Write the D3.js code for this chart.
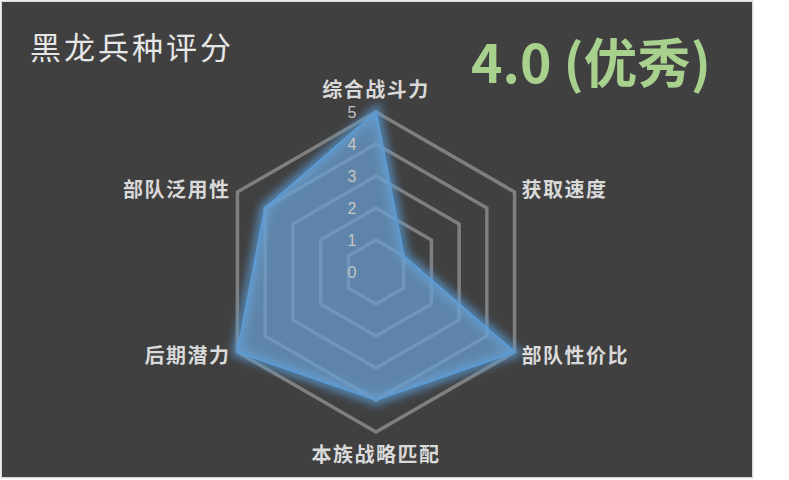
<!DOCTYPE html>
<html lang="zh">
<head>
<meta charset="utf-8">
<title>黑龙兵种评分</title>
<script src="https://cdn.jsdelivr.net/npm/d3@7"></script>
<style>
  body { margin: 0; background: #ffffff; }
  svg text { font-family: "Noto Sans CJK SC", "Noto Sans", sans-serif; }
  svg text.tick { font-family: "Liberation Sans", "DejaVu Sans", sans-serif; }
</style>
</head>
<body>
<div id="chart"></div>
<script>
// data
var axes = ["综合战斗力", "获取速度", "部队性价比", "本族战略匹配", "后期潜力", "部队泛用性"];
var scores = [5, 1, 5, 4, 5, 4];
var ticks = [0, 1, 2, 3, 4, 5];
var title = "黑龙兵种评分";
var verdict = "4.0 (优秀)";

var W = 789, H = 480;
var cx = 376, cy = 272, R = 160;

var svg = d3.select("#chart").append("svg")
    .attr("width", W).attr("height", H);

// blue glow round the series line
var defs = svg.append("defs");
var glow = defs.append("filter").attr("id", "glow")
    .attr("x", "-20%").attr("y", "-20%").attr("width", "140%").attr("height", "140%");
glow.append("feGaussianBlur").attr("in", "SourceGraphic").attr("stdDeviation", 4);

// panel
svg.append("rect").attr("x", 0.5).attr("y", 0.5).attr("width", 753).attr("height", 478)
    .attr("fill", "#d9d9d9");
svg.append("rect").attr("x", 2).attr("y", 2).attr("width", 750).attr("height", 475)
    .attr("fill", "#404040");

var r = d3.scaleLinear().domain([0, 5]).range([0, R]);
var angle = d3.scalePoint().domain(d3.range(axes.length + 1)).range([0, 2 * Math.PI]);

function pt(i, v) {
  var a = angle(i);
  return [cx + r(v) * Math.sin(a), cy - r(v) * Math.cos(a)];
}

var g = svg.append("g");

// grid rings
var rings = ticks.filter(function(t) { return t > 0; });
g.selectAll("path.ring").data(rings).enter().append("path")
    .attr("class", "ring")
    .attr("d", function(t) {
      return d3.line()(axes.map(function(_, i) { return pt(i, t); })) + "Z";
    })
    .attr("fill", "none")
    .attr("stroke", "#7f7f7f")
    .attr("stroke-width", 3.5)
    .attr("stroke-linejoin", "miter");

// series
var line = d3.lineRadial()
    .angle(function(d, i) { return angle(i); })
    .radius(function(d) { return r(d); })
    .curve(d3.curveLinearClosed);

var series = g.append("g").attr("transform", "translate(" + cx + "," + cy + ")");
series.append("path").datum(scores)
    .attr("d", line)
    .attr("fill", "none")
    .attr("stroke", "#5b9bd5")
    .attr("stroke-width", 10)
    .attr("stroke-opacity", 0.8)
    .attr("filter", "url(#glow)");
series.append("path").datum(scores)
    .attr("d", line)
    .attr("fill", "#6a9fd0")
    .attr("fill-opacity", 0.73)
    .attr("stroke", "#5b9bd5")
    .attr("stroke-width", 2)
    .attr("stroke-linejoin", "miter");

// tick labels
g.selectAll("text.tick").data(ticks).enter().append("text")
    .attr("class", "tick")
    .attr("x", cx - 24)
    .attr("y", function(t) { return cy - r(t) + 6; })
    .attr("text-anchor", "middle")
    .attr("font-size", 16)
    .attr("fill", "#c4c4c4")
    .text(function(t) { return t; });

// axis labels
g.selectAll("text.axis").data(axes).enter().append("text")
    .attr("class", "axis")
    .each(function(d, i) {
      var p = pt(i, 5), a = angle(i), s = Math.sin(a), c = Math.cos(a);
      var t = d3.select(this);
      if (Math.abs(s) < 0.01) {
        t.attr("x", p[0]).attr("text-anchor", "middle")
         .attr("y", c > 0 ? p[1] - 15 : p[1] + 30);
      } else {
        t.attr("x", p[0] + (s > 0 ? 7 : -7))
         .attr("text-anchor", s > 0 ? "start" : "end")
         .attr("y", c > 0 ? p[1] + 5 : p[1] + 11);
      }
    })
    .attr("font-size", 20)
    .attr("letter-spacing", 1.5)
    .attr("font-weight", "bold")
    .attr("fill", "#d9d9d9")
    .text(function(d) { return d; });

// titles
svg.append("text")
    .attr("x", 30).attr("y", 59)
    .attr("font-size", 31)
    .attr("letter-spacing", 3)
    .attr("fill", "#e6e6e6")
    .text(title);

svg.append("text")
    .attr("x", 471).attr("y", 83)
    .attr("font-size", 53)
    .attr("font-weight", "bold")
    .attr("fill", "#a9d18e")
    .attr("textLength", 240)
    .attr("lengthAdjust", "spacingAndGlyphs")
    .text(verdict);
</script>
</body>
</html>
